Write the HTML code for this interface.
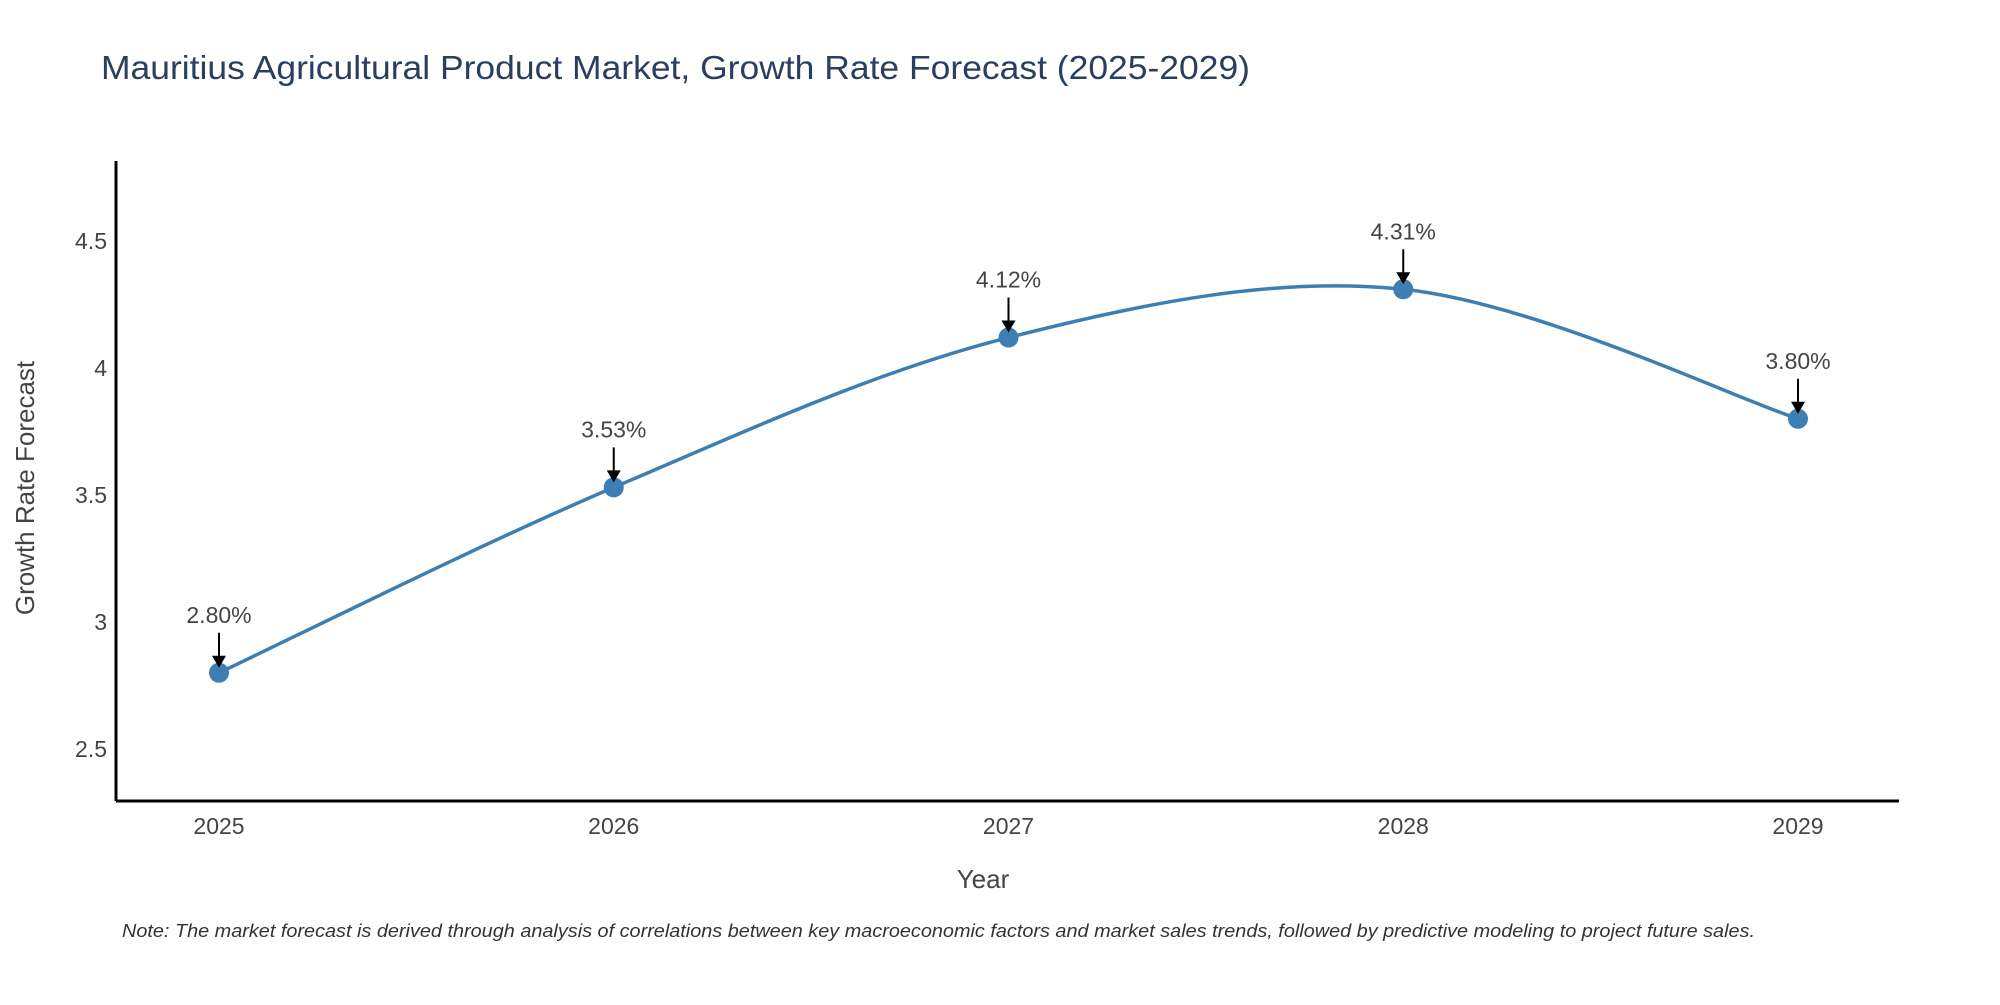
<!DOCTYPE html>
<html><head><meta charset="utf-8"><style>
body{margin:0;background:#fff;}
svg text{font-family:"Liberation Sans",sans-serif;}
</style></head><body>
<svg id="chart" width="2000" height="1000" xmlns="http://www.w3.org/2000/svg">
<text x="101" y="79" font-size="33" fill="#2a3f5f" textLength="1149" lengthAdjust="spacingAndGlyphs">Mauritius Agricultural Product Market, Growth Rate Forecast (2025-2029)</text>
<g id="axes"></g>
<g id="series"></g>
<text x="983" y="888" font-size="26" fill="#444" text-anchor="middle">Year</text>
<text transform="translate(34,488) rotate(-90)" font-size="26" fill="#444" text-anchor="middle">Growth Rate Forecast</text>
<text x="122" y="937" font-size="18" font-style="italic" fill="#333" textLength="1633" lengthAdjust="spacingAndGlyphs">Note: The market forecast is derived through analysis of correlations between key macroeconomic factors and market sales trends, followed by predictive modeling to project future sales.</text>
</svg>
<script>
const years = ["2025","2026","2027","2028","2029"];
const values = [2.80,3.53,4.12,4.31,3.80];
const yTicks = [2.5,3,3.5,4,4.5];
const yTickLabels = ["2.5","3","3.5","4","4.5"];
const NS="http://www.w3.org/2000/svg";
const x0=219,x1=1798;
function xs(i){return x0+(x1-x0)*i/(years.length-1);}
function ys(v){return 749+(v-2.5)*(241-749)/2.0;}
function mk(tag,attrs,parent){const e=document.createElementNS(NS,tag);for(const k in attrs)e.setAttribute(k,attrs[k]);parent.appendChild(e);return e;}
const axes=document.getElementById('axes'), series=document.getElementById('series');
const yl=mk('line',{x1:116,y1:161,x2:116,y2:801,stroke:'#000','stroke-width':3},axes);


const xl=mk('line',{x1:116,y1:801,x2:1899,y2:801,stroke:'#000','stroke-width':3},axes);


yTicks.forEach((v,i)=>{const t=mk('text',{x:107,y:ys(v)+8,'font-size':23,fill:'#444','text-anchor':'end'},axes);t.textContent=yTickLabels[i];

});
years.forEach((y,i)=>{const t=mk('text',{x:xs(i),y:834,'font-size':23,fill:'#444','text-anchor':'middle'},axes);t.textContent=y;

});
const pts=values.map((v,i)=>[xs(i),ys(v)]);
let d=`M${pts[0][0]},${pts[0][1]}`;
for(let i=0;i<pts.length-1;i++){const p0=pts[Math.max(0,i-1)],p1=pts[i],p2=pts[i+1],p3=pts[Math.min(pts.length-1,i+2)];
const c1=[p1[0]+(p2[0]-p0[0])/6,p1[1]+(p2[1]-p0[1])/6],c2=[p2[0]-(p3[0]-p1[0])/6,p2[1]-(p3[1]-p1[1])/6];
d+=` C${c1[0]},${c1[1]} ${c2[0]},${c2[1]} ${p2[0]},${p2[1]}`;}
const line=mk('path',{d:d,fill:'none',stroke:'#3d7fb3','stroke-width':3.5},series);


pts.forEach((p,i)=>{
const c=mk('circle',{cx:p[0],cy:p[1],r:10,fill:'#3d7fb3'},series);


const a=mk('line',{x1:p[0],y1:p[1]-40,x2:p[0],y2:p[1]-14,stroke:'#000','stroke-width':2},series);


const h=mk('polygon',{points:`${p[0]-7},${p[1]-17} ${p[0]+7},${p[1]-17} ${p[0]},${p[1]-5}`,fill:'#000'},series);


const t=mk('text',{x:p[0],y:p[1]-50,'font-size':23,fill:'#444','text-anchor':'middle'},series);
t.textContent=values[i].toFixed(2)+'%';


});
</script>
</body></html>
